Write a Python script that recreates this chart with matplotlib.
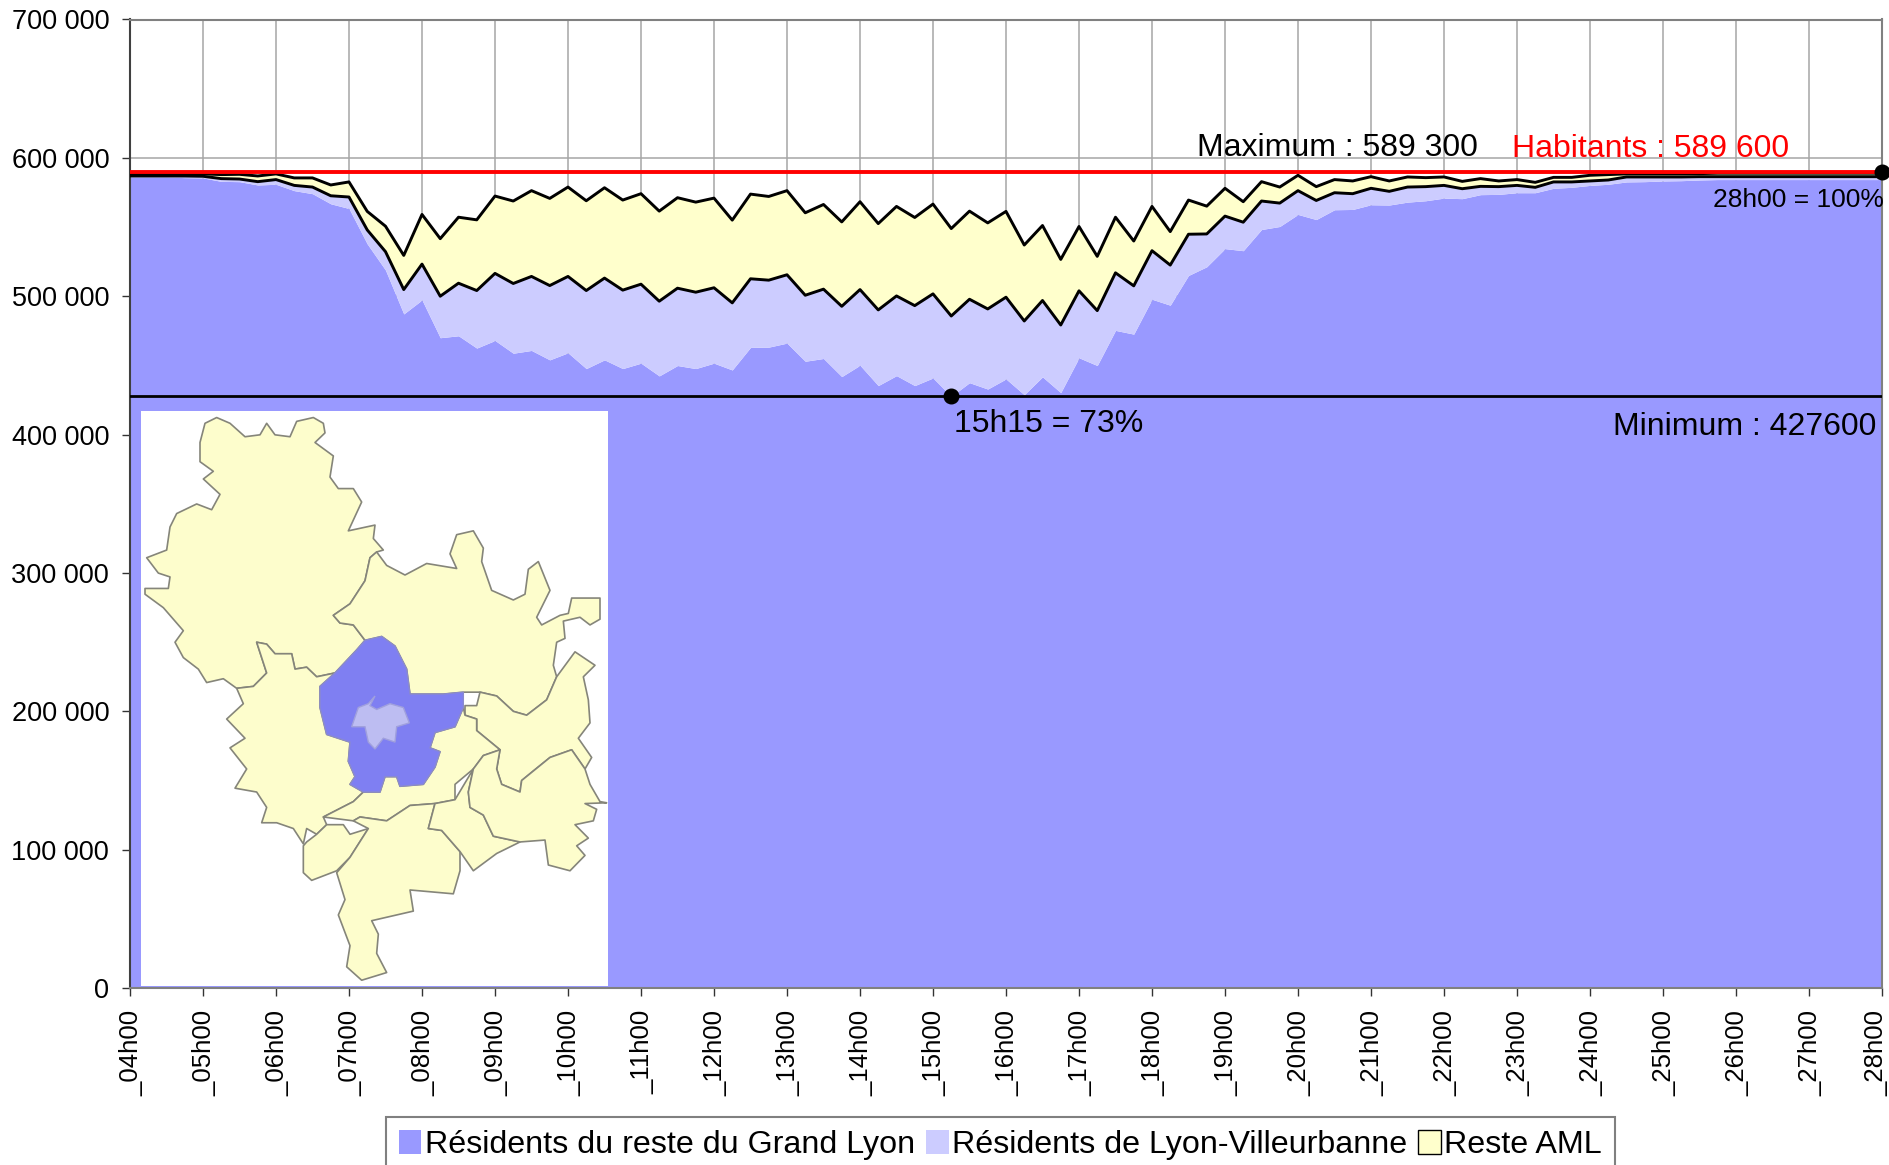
import matplotlib
matplotlib.use("Agg")
import matplotlib.pyplot as plt
from matplotlib.transforms import ScaledTranslation
import numpy as np
from matplotlib.patches import Polygon, Patch

plt.rcParams['font.family'] = ['Liberation Sans', 'DejaVu Sans']

W, H = 1889, 1165

# cumulative stack levels, thousands of people, one value per 15 minutes from 04h00 to 28h00
grand_lyon = [586.2,586.2,586.2,585.7,585.5,583.0,582.8,580.4,580.9,576.3,574.1,566.8,563.4,537.8,518.9,487.2,497.3,
 470.0,471.4,462.5,468.0,458.8,460.8,454.0,459.1,447.7,454.0,447.7,451.6,442.4,449.9,447.7,451.6,446.7,463.0,463.2,
 466.1,453.0,455.0,441.9,450.1,435.4,442.6,435.4,440.9,427.6,437.5,432.9,440.2,428.8,441.7,430.3,455.5,449.9,475.3,
 472.6,497.8,493.5,515.0,521.3,534.4,532.9,548.2,550.4,559.1,555.4,562.5,562.7,566.1,565.9,568.0,569.0,570.9,570.5,
 573.4,573.6,574.8,574.8,578.0,578.7,580.1,580.9,582.6,582.8,583.3,583.5,584.0,584.3,584.3,584.3,584.3,584.3,584.3,
 584.3,584.3,584.3,584.3]
lyon_villeurbanne = [586.9,586.9,586.9,586.9,586.7,585.0,584.7,582.8,584.3,580.1,578.9,572.6,571.7,547.9,532.2,504.8,523.2,
 500.0,509.4,504.1,516.5,509.2,514.3,507.7,514.3,504.1,513.1,504.4,508.7,496.4,505.8,502.9,506.1,495.2,512.6,511.6,
 515.5,500.7,505.1,492.7,504.8,490.1,500.2,493.2,501.7,485.7,497.8,490.8,499.3,482.1,496.9,479.2,503.9,489.6,516.9,
 507.5,532.9,522.5,544.8,545.0,557.9,553.5,568.8,567.3,576.3,569.2,574.8,574.1,578.0,575.8,578.9,579.2,580.1,577.7,
 579.4,579.2,580.1,578.7,582.6,582.6,583.3,584.0,586.2,586.2,586.2,586.2,586.4,586.4,586.4,586.4,586.4,586.4,586.4,
 586.4,586.4,586.4,586.4]
reste_aml = [588.4,588.4,588.4,588.4,588.4,587.9,588.1,586.9,588.4,585.5,585.5,580.4,582.6,561.3,550.6,529.5,559.1,
 541.6,557.1,555.2,572.4,568.8,576.3,570.7,578.9,569.0,578.4,569.5,574.1,561.5,571.2,568.0,570.9,555.0,573.8,572.1,
 576.3,560.3,566.3,553.7,568.3,552.5,564.9,556.9,566.6,548.9,561.5,553.0,561.3,537.0,551.1,526.6,550.4,528.8,557.1,
 539.9,564.9,546.7,569.5,565.1,578.0,568.3,582.8,578.9,587.4,579.2,584.3,583.3,586.4,583.3,586.2,585.7,586.2,583.0,
 585.0,583.3,584.3,582.3,585.9,585.9,587.4,587.9,588.4,588.4,588.4,588.4,588.6,588.9,588.9,588.9,588.9,588.9,588.9,
 588.9,588.9,588.9,588.9]
habitants = 589600
minimum = 427600
hour_labels = ["_%02dh00" % h for h in range(4, 29)]
series_names = ["Résidents du reste du Grand Lyon", "Résidents de Lyon-Villeurbanne", "Reste AML"]

# inset map outlines, in the map picture's own coordinates
map_north_west = [(255,60),(290,45),(330,60),(375,95),(420,90),(440,60),(465,90),(510,95),(530,55),(580,45),(610,60),(615,85),(585,110),(640,145),(630,200),(655,230),(700,230),(725,265),(685,340),(765,325),(760,360),(790,390),(770,395),(750,410),(735,470),(690,530),(640,560),(660,580),(700,585),(735,625),(710,650),(645,710),(590,720),(560,695),(525,700),(515,660),(465,660),(440,635),(410,630),(440,710),(400,745),(350,750),(310,725),(260,735),(235,700),(190,670),(165,630),(190,600),(130,540),(75,505),(75,490),(105,490),(145,490),(150,460),(115,450),(80,410),(140,390),(150,330),(170,295),(230,270),(275,285),(300,245),(250,205),(280,185),(240,160),(240,110)]
map_south_west = [(410,630),(440,635),(465,660),(515,660),(525,700),(560,695),(590,720),(645,710),(600,745),(600,800),(620,870),(690,890),(685,940),(705,980),(690,1000),(730,1020),(700,1045),(610,1085),(620,1105),(590,1130),(560,1115),(550,1155),(520,1115),(470,1100),(425,1100),(440,1060),(410,1020),(345,1010),(380,960),(330,905),(375,880),(320,830),(370,790),(350,750),(400,745),(440,710)]
map_small_south = [(550,1160),(550,1230),(575,1250),(650,1225),(690,1190),(745,1115),(690,1130),(670,1105),(620,1105),(590,1130),(560,1150)]
map_east = [(770,395),(800,430),(855,455),(920,425),(1010,438),(990,400),(1010,350),(1060,340),(1090,385),(1085,420),(1115,495),(1180,520),(1215,505),(1225,440),(1255,420),(1290,495),(1250,565),(1265,585),(1320,560),(1345,555),(1355,515),(1440,515),(1440,570),(1410,585),(1380,565),(1330,575),(1335,620),(1310,630),(1300,690),(1310,720),(1280,780),(1220,820),(1180,810),(1130,770),(1080,760),(1030,760),(970,765),(870,765),(860,700),(825,640),(785,615),(735,625),(700,585),(660,580),(640,560),(690,530),(735,470),(750,410)]
map_north_east = [(1310,720),(1365,655),(1425,690),(1390,720),(1405,780),(1410,840),(1375,880),(1415,930),(1395,960),(1355,910),(1290,930),(1240,965),(1205,990),(1200,1020),(1145,1000),(1130,960),(1140,910),(1070,860),(1070,830),(1035,820),(1035,795),(1070,795),(1080,760),(1130,770),(1180,810),(1220,820),(1280,780)]
map_band = [(1030,800),(1035,820),(1070,830),(1070,860),(1140,910),(1090,925),(1060,960),(1005,1000),(1005,1040),(945,1050),(870,1055),(800,1095),(720,1085),(700,1095),(610,1085),(700,1045),(730,1020),(780,1020),(795,980),(830,980),(840,1005),(910,1000),(945,955),(960,915),(930,905),(945,865),(1005,850)]
map_south = [(745,1115),(700,1095),(720,1085),(800,1095),(870,1055),(945,1050),(925,1115),(965,1120),(1020,1175),(1020,1225),(1000,1285),(870,1275),(880,1330),(755,1355),(775,1390),(770,1440),(800,1490),(725,1510),(680,1475),(690,1420),(655,1340),(675,1300),(650,1230),(690,1190)]
map_south_centre = [(945,1050),(1005,1040),(1060,960),(1045,1020),(1050,1060),(1090,1080),(1120,1135),(1200,1150),(1130,1180),(1060,1225),(1020,1175),(965,1120),(925,1115)]
map_south_east = [(1090,925),(1140,910),(1130,960),(1145,1000),(1200,1020),(1205,990),(1290,930),(1355,910),(1395,960),(1410,1000),(1440,1045),(1460,1048),(1395,1050),(1430,1065),(1420,1095),(1365,1105),(1405,1140),(1370,1160),(1395,1185),(1350,1225),(1285,1210),(1275,1145),(1200,1150),(1120,1135),(1090,1080),(1050,1060),(1045,1020),(1060,960)]
map_grand_lyon = [(735,625),(785,615),(825,640),(860,700),(870,765),(970,765),(1030,760),(1030,800),(1005,850),(945,865),(930,905),(960,915),(945,955),(910,1000),(840,1005),(830,980),(795,980),(780,1020),(730,1020),(690,1000),(705,980),(685,940),(690,890),(620,870),(600,800),(600,745),(645,710),(710,650)]
map_lyon = [(745,790),(765,770),(750,795),(770,805),(810,790),(850,800),(868,840),(830,850),(825,890),(790,880),(765,908),(745,890),(735,850),(695,850),(715,800)]

C_BASE, C_MID, C_TOP = '#9999FF', '#CCCCFF', '#FFFFCC'

x = 4 + np.arange(len(grand_lyon)) * 0.25
base = np.array(grand_lyon) * 1000
mid = np.array(lyon_villeurbanne) * 1000
top = np.array(reste_aml) * 1000

fig = plt.figure(figsize=(W / 100, H / 100), dpi=100, facecolor='white')
ax = fig.add_axes([130 / W, 1 - 988 / H, 1752 / W, (988 - 19.5) / H])
ax.set_xlim(4, 28)
ax.set_ylim(0, 700000)

ax.fill_between(x, 0, base, color=C_BASE, lw=0, zorder=2)
ax.fill_between(x, base, mid, color=C_MID, lw=0, zorder=2)
ax.fill_between(x, mid, top, color=C_TOP, lw=0, zorder=2)
ax.plot(x, mid, color='black', lw=2.1, zorder=3)
ax.plot(x, top, color='black', lw=2.1, zorder=3)
ax.axhline(habitants, color='#FF0000', lw=2.8, zorder=4)
ax.axhline(minimum, color='black', lw=2.0, zorder=4)
ax.plot([15.25, 28], [minimum, habitants], 'o', color='black', ms=10.5, zorder=6, clip_on=False)

ax.set_xticks(np.arange(4, 29))
ax.set_xticklabels(hour_labels, rotation=90, fontsize=18.5, ha='center', va='top')
ax.set_yticks(np.arange(0, 700001, 100000))
ax.set_yticklabels([f"{v:,}".replace(",", " ") for v in range(0, 700001, 100000)], fontsize=19.5)
ax.tick_params(axis='x', length=6, width=1, color='#333333', pad=10)
ax.tick_params(axis='y', length=6, width=1, color='#333333', pad=9)
shift = ScaledTranslation(1 / 100, 0, fig.dpi_scale_trans)
for lab in ax.get_xticklabels():
    lab.set_transform(lab.get_transform() + shift)
last = ax.get_xticklabels()[-1]
last.set_transform(last.get_transform() + ScaledTranslation(-7 / 100, 0, fig.dpi_scale_trans))
ax.grid(True, color='#A6A6A6', lw=1.1, zorder=1)
ax.set_axisbelow(True)
for s in ['top', 'right', 'bottom']:
    ax.spines[s].set_color('#808080')
    ax.spines[s].set_linewidth(1.5)
ax.spines['left'].set_color('#404040')
ax.spines['left'].set_linewidth(1.5)

def fx(px):
    return px / W
def fy(py):
    return 1 - py / H

txt = dict(va='center', ha='left', fontsize=23, zorder=10)
fig.text(fx(1197), fy(148), "Maximum : 589 300", color='black', **txt)
fig.text(fx(1512), fy(149), "Habitants : 589 600", color='#FF0000', **txt)
fig.text(fx(954), fy(424), "15h15 = 73%", color='black', **txt)
fig.text(fx(1613), fy(427), "Minimum : 427600", color='black', **txt)
fig.text(fx(1713), fy(200), "28h00 = 100%", color='black', va='center', ha='left', fontsize=19)

# inset map
mp = fig.add_axes([141 / W, 1 - 986 / H, 467 / W, (986 - 411) / H], facecolor='white', zorder=5)
mp.set_xlim(63, 1464)
mp.set_ylim(1525, 28)
mp.set_xticks([]); mp.set_yticks([])
for s in mp.spines.values():
    s.set_visible(False)
for poly in [map_north_west, map_south_west, map_small_south, map_east, map_north_east, map_band,
             map_south, map_south_centre, map_south_east]:
    mp.add_patch(Polygon(poly, closed=True, fc='#FDFDCC', ec='#85857A', lw=1.2, joinstyle='round'))
mp.add_patch(Polygon(map_grand_lyon, closed=True, fc='#7F7FF2', ec='#8A8AD0', lw=1))
mp.add_patch(Polygon(map_lyon, closed=True, fc='#BDBDF2', ec='#A0A0DD', lw=1))

handles = [Patch(fc=c, ec='none' if c != C_TOP else 'black', lw=1) for c in (C_BASE, C_MID, C_TOP)]
leg = fig.legend(handles, series_names, ncols=3, loc='lower left',
                 bbox_to_anchor=(386 / W, 1 - 1173 / H), bbox_transform=fig.transFigure,
                 fontsize=23.2, frameon=True, fancybox=False, edgecolor='#808080', framealpha=1,
                 handlelength=0.7, handleheight=0.75, handletextpad=0.1, columnspacing=0.35,
                 borderpad=0.4, borderaxespad=0)
leg.get_frame().set_linewidth(1.5)

fig.savefig('out.png', dpi=100)
